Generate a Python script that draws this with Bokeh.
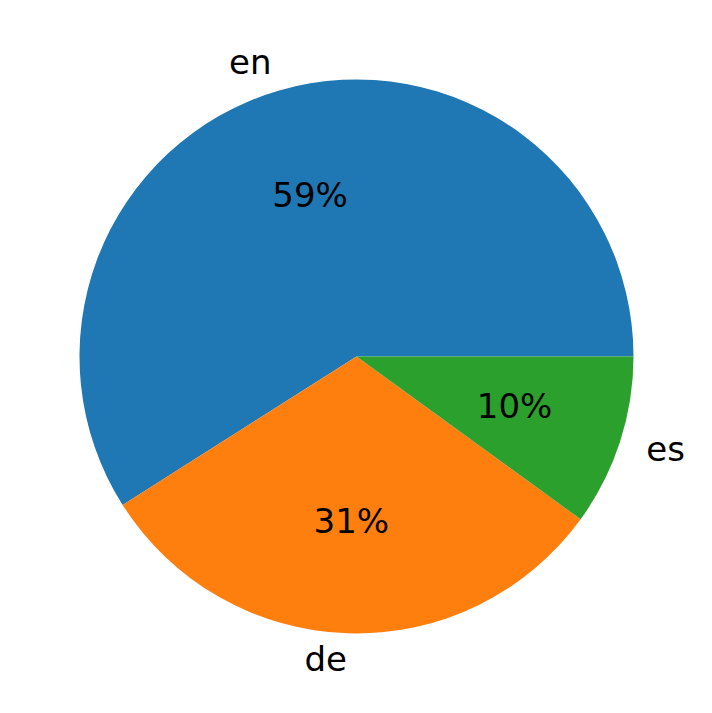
import numpy as np
from bokeh.plotting import figure
from bokeh.models import ColumnDataSource, Range1d
from bokeh.core.properties import value
from bokeh.embed import file_html
from bokeh.resources import INLINE

labels = ["en", "de", "es"]
values = [59, 31, 10]
colors = ["#1f77b4", "#ff7f0e", "#2ca02c"]

W, H = 696, 697
cx, cy = 356, 356  # pixel center from top-left of figure
R = 277.0

vals = np.array(values, dtype=float)
frac = vals / vals.sum()
ends = np.cumsum(frac) * 2 * np.pi
starts = ends - frac * 2 * np.pi
mids = (starts + ends) / 2

p = figure(width=W, height=H, output_backend="svg", toolbar_location=None,
           x_range=Range1d(-cx / R, (W - cx) / R),
           y_range=Range1d(-(H - cy) / R, cy / R),
           min_border=0)
p.axis.visible = False
p.grid.visible = False
p.outline_line_color = None
p.background_fill_color = "white"

src = ColumnDataSource(dict(start=starts, end=ends, color=colors))
p.wedge(x=0, y=0, radius=1, start_angle="start", end_angle="end",
        fill_color="color", line_color=None, source=src)

lx = 1.1 * np.cos(mids)
ly = 1.1 * np.sin(mids)
align = ["left" if x > 0 else "right" for x in lx]
lsrc = ColumnDataSource(dict(x=lx, y=ly, t=labels, a=align))
p.text(x="x", y="y", text="t", text_align="a", text_baseline="middle",
       text_font=value("DejaVu Sans"), text_font_size="34px", y_offset=-2,
       text_color="black", source=lsrc)

px = 0.6 * np.cos(mids)
py = 0.6 * np.sin(mids)
pct = ["%d%%" % round(f * 100) for f in frac]
psrc = ColumnDataSource(dict(x=px, y=py, t=pct))
p.text(x="x", y="y", text="t", text_align="center", text_baseline="middle",
       text_font=value("DejaVu Sans"), text_font_size="34px", y_offset=-2,
       text_color="black", source=psrc)

open("out.html", "w").write(file_html(p, INLINE))
